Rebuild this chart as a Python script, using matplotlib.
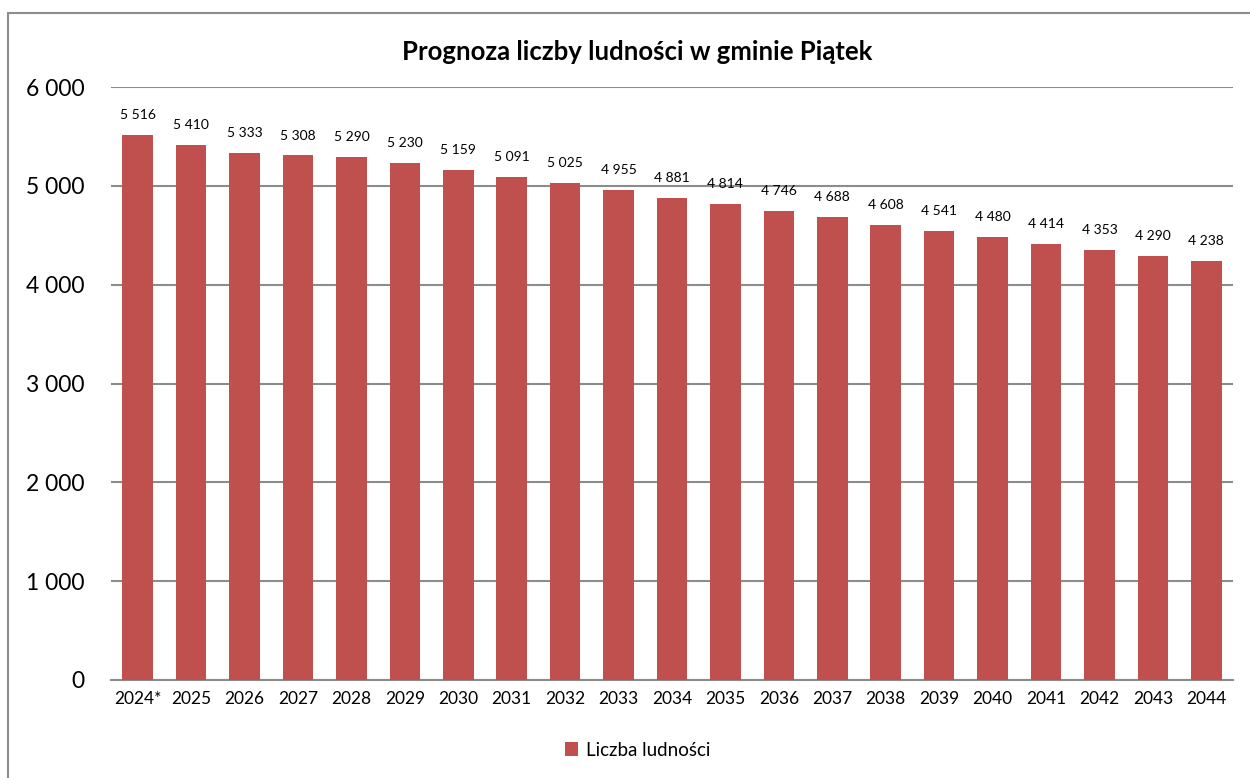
import matplotlib
matplotlib.use("Agg")
import matplotlib.pyplot as plt
from matplotlib.patches import Rectangle
from matplotlib.ticker import FuncFormatter

years = ["2024*", "2025", "2026", "2027", "2028", "2029", "2030", "2031", "2032", "2033",
         "2034", "2035", "2036", "2037", "2038", "2039", "2040", "2041", "2042", "2043", "2044"]
population = [5516, 5410, 5333, 5308, 5290, 5230, 5159, 5091, 5025, 4955,
              4881, 4814, 4746, 4688, 4608, 4541, 4480, 4414, 4353, 4290, 4238]
y_ticks = [0, 1000, 2000, 3000, 4000, 5000, 6000]
title = "Prognoza liczby ludności w gminie Piątek"
series_name = "Liczba ludności"

plt.rcParams['font.family'] = ['Lato', 'DejaVu Sans']

W, H = 1250, 778
fig = plt.figure(figsize=(W / 100, H / 100), dpi=100)
fig.patch.set_facecolor("white")

# outer frame
fig.add_artist(Rectangle((8 / W, -0.05), 1.2, (H - 13) / H + 0.05, transform=fig.transFigure,
                         fill=False, edgecolor="#8c8c8c", linewidth=1.5))

left, right = 111 / W, 1233 / W
top, bottom = 1 - 87 / H, 1 - 680 / H
ax = fig.add_axes([left, bottom, right - left, top - bottom])

color = "#C0504D"
x = list(range(len(years)))
bars = ax.bar(x, population, width=0.57, color=color, zorder=3, label=series_name)

ax.set_xlim(-0.5, len(years) - 0.5)
ax.set_ylim(0, 6000)
ax.set_yticks(y_ticks)
ax.yaxis.set_major_formatter(FuncFormatter(lambda v, p: f"{int(v):,}".replace(",", " ")))
ax.set_xticks(x)
ax.set_xticklabels(years)
ax.tick_params(axis="y", length=0, labelsize=16.5, pad=19)
ax.tick_params(axis="x", length=0, labelsize=12.5, pad=8)

ax.grid(axis="y", color="#8c8c8c", linewidth=1.5, zorder=0)
for s in ["top", "right", "left"]:
    ax.spines[s].set_visible(False)
ax.spines["bottom"].set_color("#8c8c8c")
ax.spines["bottom"].set_linewidth(1.5)

for xi, v in zip(x, population):
    ax.annotate(f"{v:,}".replace(",", " "), (xi, v), xytext=(0, 10), textcoords="offset points",
                ha="center", va="bottom", fontsize=10)

fig.text(637 / W, 1 - 52 / H, title, ha="center", va="center", fontsize=18.5, fontweight="bold")

leg = fig.legend(handles=[bars], labels=[series_name], loc="center", bbox_to_anchor=(0.51, 1 - 750 / H),
                 frameon=False, fontsize=13.5, handlelength=0.7, handleheight=0.7, handletextpad=0.4)

fig.savefig("out.png", dpi=100, facecolor="white")
